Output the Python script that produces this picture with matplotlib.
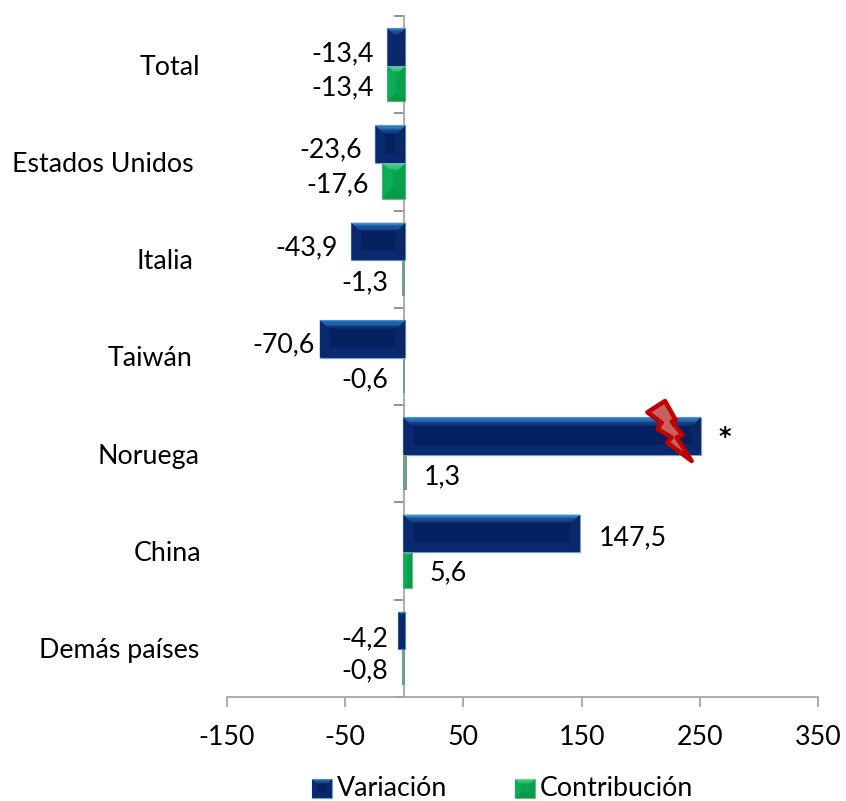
import numpy as np
import matplotlib
matplotlib.use("Agg")
import matplotlib.pyplot as plt
from matplotlib.patches import Polygon, Rectangle
from matplotlib.transforms import Affine2D, IdentityTransform

plt.rcParams['font.family'] = ['Lato', 'DejaVu Sans']

W, H = 846, 801
TAM = 19.3

# data
paises = ['Total', 'Estados Unidos', 'Italia', 'Taiwán', 'Noruega', 'China', 'Demás países']
variacion = [-13.4, -23.6, -43.9, -70.6, 250, 147.5, -4.2]
contribucion = [-13.4, -17.6, -1.3, -0.6, 1.3, 5.6, -0.8]
etiq_variacion = ['-13,4', '-23,6', '-43,9', '-70,6', '', '147,5', '-4,2']
etiq_contribucion = ['-13,4', '-17,6', '-1,3', '-0,6', '1,3', '5,6', '-0,8']
xticks = [-150, -50, 50, 150, 250, 350]

# pixel placement of the texts (x, y centre, top-left origin)
pos_paises = [200, 194, 193, 192, 199, 201, 199]
pos_var = [(374, 54, 'right'), (362, 150, 'right'), (338, 248, 'right'), (315, 345, 'right'),
           (719, 436, 'left'), (599, 538, 'left'), (388, 639, 'right')]
pos_con = [(374, 88, 'right'), (369, 185, 'right'), (388, 283, 'right'), (388, 380, 'right'),
           (424, 477, 'left'), (429, 573, 'left'), (388, 671, 'right')]

AZUL = dict(centro='#05205f', claro='#3a8fd8', lado='#0a2a70', der='#0a2868', abajo='#0a2a70', borde='#7fa3c8', fino='#4f7fb5')
VERDE = dict(centro='#08a550', claro='#5fe59a', lado='#0bad58', der='#08a04d', abajo='#079a4a', borde='#7fae94', fino='#6f9f88')


def mezcla(c1, c2, t):
    a, b = np.array(matplotlib.colors.to_rgb(c1)), np.array(matplotlib.colors.to_rgb(c2))
    return tuple(a + (b - a) * t)


def bisel(fig, x0, y0, x1, y1, pal, tam=10):
    # bevel drawn in display pixels (y upwards) over a box
    trans = IdentityTransform()
    w, h = x1 - x0, y1 - y0
    b = min(tam, w / 2, h / 2)
    z = 5
    if w < 4:
        fig.add_artist(Rectangle((x0, y0), w, h, fc=pal['fino'], ec='none', transform=trans, zorder=z))
        return
    fig.add_artist(Rectangle((x0, y0), w, h, fc=pal['centro'], ec=pal['borde'], lw=0.9, transform=trans, zorder=z))
    fig.add_artist(Polygon([(x0, y0), (x0 + b, y0 + b), (x0 + b, y1 - b), (x0, y1)], fc=pal['lado'], ec='none', transform=trans, zorder=z))
    fig.add_artist(Polygon([(x1, y0), (x1 - b, y0 + b), (x1 - b, y1 - b), (x1, y1)], fc=pal['der'], ec='none', transform=trans, zorder=z))
    fig.add_artist(Polygon([(x0, y0), (x1, y0), (x1 - b, y0 + b), (x0 + b, y0 + b)], fc=pal['abajo'], ec='none', transform=trans, zorder=z))
    n = 8
    for i in range(n):
        t0, t1 = i / n * b, (i + 1) / n * b
        fig.add_artist(Polygon([(x0 + t0, y1 - t0), (x1 - t0, y1 - t0), (x1 - t1, y1 - t1), (x0 + t1, y1 - t1)],
                               fc=mezcla(pal['claro'], pal['centro'], i / (n - 1)), ec='none', transform=trans, zorder=z))


fig = plt.figure(figsize=(W / 100, H / 100), dpi=100)
ax = fig.add_axes([227 / W, 1 - 697 / H, (818 - 227) / W, (697 - 16) / H])
ax.set_xlim(-150, 350)
ax.set_ylim(6.5, -0.5)

y = np.arange(len(paises))
alto = 0.385
b1 = ax.barh(y - alto, variacion, height=alto, align='edge', color='none')
b2 = ax.barh(y, contribucion, height=alto * 0.95, align='edge', color='none')

fig.canvas.draw()
for patch in list(b2) + list(b1):
    pal = AZUL if patch in list(b1) else VERDE
    bb = patch.get_window_extent()
    bisel(fig, bb.x0 - 1, bb.y0 - 1, bb.x1 + 1, bb.y1 - 1, pal)

# axes: y line at zero, x line at the bottom
for s in ['top', 'right']:
    ax.spines[s].set_visible(False)
ax.spines['left'].set_position(('data', 0))
for s in ['left', 'bottom']:
    ax.spines[s].set_color('#a6a6a6')
    ax.spines[s].set_linewidth(1.3)
ax.set_xticks(xticks)
ax.set_xticklabels([str(v) for v in xticks], fontsize=TAM, color='black')
ax.tick_params(axis='x', length=7, width=1.3, color='#a6a6a6', pad=13.5)
ax.set_yticks(np.arange(-0.5, 6.6, 1))
ax.set_yticklabels([])
ax.tick_params(axis='y', length=7, width=1.3, color='#8c8c8c', direction='out')

px = Affine2D().scale(1, -1).translate(0, H)
for i, p in enumerate(paises):
    yc = 18.5 + (i + 0.5) * (697 - 16) / 7
    fig.text(pos_paises[i], yc, p, transform=px, ha='right', va='center', fontsize=TAM)
for (xp, yp, ha), t in zip(pos_var + pos_con, etiq_variacion + etiq_contribucion):
    fig.text(xp, yp, t, transform=px, ha=ha, va='center', fontsize=TAM, zorder=10)
# truncated Norway bar is marked with an asterisk
fig.text(718, 437, '*', transform=px, ha='left', va='center', fontsize=17, family='DejaVu Sans', fontweight='bold', zorder=10)

# lightning bolt on the Norway bar
rayo = np.array([(262, 97), (315, 63), (347, 120), (335, 125), (368, 165), (350, 172), (395, 243),
                 (322, 188), (335, 172), (292, 147), (305, 128)], dtype=float) / 3 + [560, 380]
fig.add_artist(Polygon(rayo, closed=True, fc='#c86060', ec='#c00000', lw=3.2, joinstyle='round', transform=px, zorder=12))

# legend
for x0, pal, xt, t in [(312, AZUL, 337, 'Variación'), (515, VERDE, 540, 'Contribución')]:
    bisel(fig, x0, H - 798, x0 + 20, H - 779, pal, tam=6)
    fig.text(xt, 788, t, transform=px, ha='left', va='center', fontsize=TAM)

fig.savefig('out.png', dpi=100)
